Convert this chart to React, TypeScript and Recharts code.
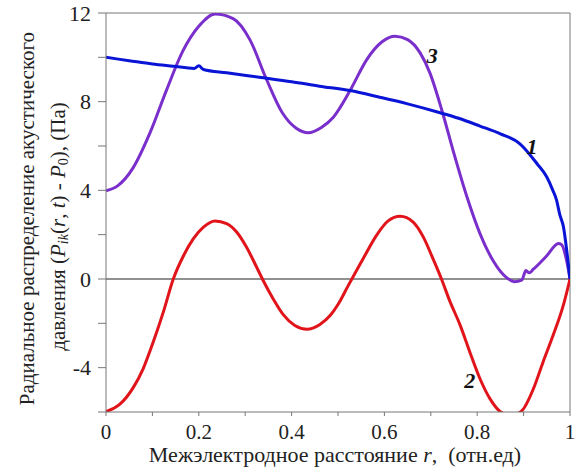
import React from "react";
import {
  LineChart,
  Line,
  XAxis,
  YAxis,
  ReferenceLine,
  ReferenceDot,
} from "recharts";

// curve 1 (blue)
const r1 = [0, 0.05, 0.1, 0.145, 0.19, 0.2, 0.21, 0.26, 0.33, 0.4, 0.46, 0.526, 0.59, 0.65, 0.72, 0.76, 0.806, 0.85, 0.892, 0.929, 0.95, 0.963, 0.971, 0.978, 0.986, 0.994, 1];
const p1 = [10.0, 9.85, 9.7, 9.6, 9.5, 9.62, 9.45, 9.3, 9.1, 8.9, 8.7, 8.5, 8.2, 7.9, 7.5, 7.25, 6.9, 6.55, 6.1, 5.2, 4.6, 4.0, 3.56, 2.9, 2.34, 1.1, 0];

// curve 2 (red)
const r2 = [0, 0.03, 0.059, 0.08, 0.102, 0.124, 0.145, 0.167, 0.188, 0.21, 0.235, 0.26, 0.282, 0.303, 0.325, 0.339, 0.361, 0.382, 0.407, 0.433, 0.461, 0.483, 0.5, 0.522, 0.555, 0.583, 0.608, 0.634, 0.662, 0.684, 0.705, 0.723, 0.741, 0.763, 0.784, 0.806, 0.828, 0.853, 0.874, 0.896, 0.921, 0.942, 0.964, 0.986, 1];
const p2 = [-5.98, -5.65, -4.89, -4.05, -2.83, -1.46, 0, 1.05, 1.81, 2.34, 2.62, 2.5, 2.11, 1.43, 0.52, -0.08, -0.92, -1.61, -2.1, -2.27, -2.05, -1.65, -1.15, -0.3, 0.95, 1.97, 2.62, 2.83, 2.57, 1.89, 0.9, 0, -1.0, -2.07, -3.29, -4.5, -5.42, -6.03, -6.15, -5.95, -4.96, -3.74, -2.52, -1.16, 0];

// curve 3 (purple)
const r3 = [0, 0.025, 0.058, 0.095, 0.13, 0.166, 0.2, 0.235, 0.274, 0.31, 0.346, 0.38, 0.41, 0.436, 0.465, 0.49, 0.526, 0.562, 0.595, 0.623, 0.65, 0.677, 0.698, 0.724, 0.748, 0.778, 0.806, 0.835, 0.864, 0.88, 0.896, 0.905, 0.912, 0.921, 0.95, 0.975, 0.982, 0.993, 1];
const p3 = [3.98, 4.2, 5.0, 6.6, 8.5, 10.3, 11.4, 11.95, 11.75, 10.8, 9.0, 7.5, 6.8, 6.6, 6.85, 7.3, 8.5, 9.9, 10.7, 10.95, 10.8, 10.2, 9.3, 7.6, 5.8, 3.7, 2.05, 0.8, 0.05, -0.12, -0.05, 0.38, 0.28, 0.44, 1.05, 1.6, 1.55, 0.8, 0];

const xTicks = [0, 0.1, 0.2, 0.3, 0.4, 0.5, 0.6, 0.7, 0.8, 0.9, 1];
const yTicks = [-6, -4, -2, 0, 2, 4, 6, 8, 10, 12];

const curveLabels = [
  { name: "1", r: 0.918, p: 6.0 },
  { name: "2", r: 0.784, p: -4.6 },
  { name: "3", r: 0.703, p: 10.1 },
];

const zip = (xs: number[], ys: number[]) => xs.map((r, i) => ({ r, p: ys[i] }));

const FONT = "'Liberation Serif', 'DejaVu Serif', 'Times New Roman', Times, serif";
const AXIS = "#777";
const serif = { fontFamily: FONT };

const XTick = (props: any) => {
  const { x, y, payload } = props;
  const k = Math.round(payload.value * 10);
  if (k % 2 !== 0) return <g />;
  return (
    <text x={x} y={y + 6} textAnchor="middle" dominantBaseline="hanging" style={serif} fontSize={21} fill="#222">
      {String(k / 10)}
    </text>
  );
};

const YTick = (props: any) => {
  const { x, y, payload } = props;
  if (payload.value % 4 !== 0) return <g />;
  return (
    <text x={x} y={y} textAnchor="end" dominantBaseline="central" style={serif} fontSize={22} fill="#222">
      {String(payload.value)}
    </text>
  );
};

const YTitle = (props: any) => {
  const { viewBox } = props;
  const cy = viewBox.y + viewBox.height / 2;
  return (
    <g fill="#222">
      <text x={27} y={cy + 6} transform={`rotate(-90, 27, ${cy + 6})`} textAnchor="middle" dominantBaseline="central" fontSize={21} style={serif}>
        Радиальное распределение акустического
      </text>
      <text x={58} y={cy + 14} transform={`rotate(-90, 58, ${cy + 14})`} textAnchor="middle" dominantBaseline="central" fontSize={21} style={serif}>
        давления (<tspan fontStyle="italic">P</tspan>
        <tspan fontSize={14} fontStyle="italic" dy={5}>ik</tspan>
        <tspan dy={-5}>(</tspan>
        <tspan fontStyle="italic">r</tspan>, <tspan fontStyle="italic">t</tspan>) - <tspan fontStyle="italic">P</tspan>
        <tspan fontSize={14} dy={5}>0</tspan>
        <tspan dy={-5}>), (Па)</tspan>
      </text>
    </g>
  );
};

const XTitle = (props: any) => {
  const { viewBox } = props;
  return (
    <text x={viewBox.x + viewBox.width / 2 - 3} y={462} textAnchor="middle" style={serif} fontSize={22} fill="#222">
      Межэлектродное расстояние <tspan fontStyle="italic">r</tspan>,{"\u00a0\u00a0"}(отн.ед)
    </text>
  );
};

const NumLabel = (text: string) => (props: any) => {
  const { viewBox } = props;
  return (
    <text x={viewBox.x} y={viewBox.y} textAnchor="middle" dominantBaseline="central" style={serif} fontSize={22} fontWeight="bold" fontStyle="italic" fill="#111">
      {text}
    </text>
  );
};

export default function App() {
  return (
    <div style={{ position: "absolute", left: 0, top: 0, background: "#fff" }}>
      <LineChart width={577} height={472} margin={{ top: 13, right: 7, bottom: 0, left: 0 }}>
        <XAxis
          type="number"
          dataKey="r"
          domain={[0, 1]}
          ticks={xTicks}
          allowDataOverflow
          height={60}
          tickSize={4}
          stroke={AXIS}
          tick={<XTick />}
          label={{ content: XTitle }}
        />
        <YAxis
          type="number"
          domain={[-6, 12]}
          ticks={yTicks}
          allowDataOverflow
          width={106}
          tickSize={8}
          tickMargin={7}
          stroke={AXIS}
          tick={<YTick />}
          label={{ content: YTitle }}
        />
        <ReferenceLine y={12} stroke={AXIS} />
        <ReferenceLine x={1} stroke={AXIS} />
        <ReferenceLine y={0} stroke="#222" strokeWidth={1} />
        <Line data={zip(r2, p2)} dataKey="p" type="monotone" stroke="#e0141a" strokeWidth={3} dot={false} isAnimationActive={false} />
        <Line data={zip(r3, p3)} dataKey="p" type="monotone" stroke="#7a2fcc" strokeWidth={3} dot={false} isAnimationActive={false} />
        <Line data={zip(r1, p1)} dataKey="p" type="monotone" stroke="#0a14d6" strokeWidth={3} dot={false} isAnimationActive={false} />
        {curveLabels.map((c) => (
          <ReferenceDot key={c.name} x={c.r} y={c.p} r={0} stroke="none" fill="none" label={{ content: NumLabel(c.name) }} />
        ))}
      </LineChart>
    </div>
  );
}
